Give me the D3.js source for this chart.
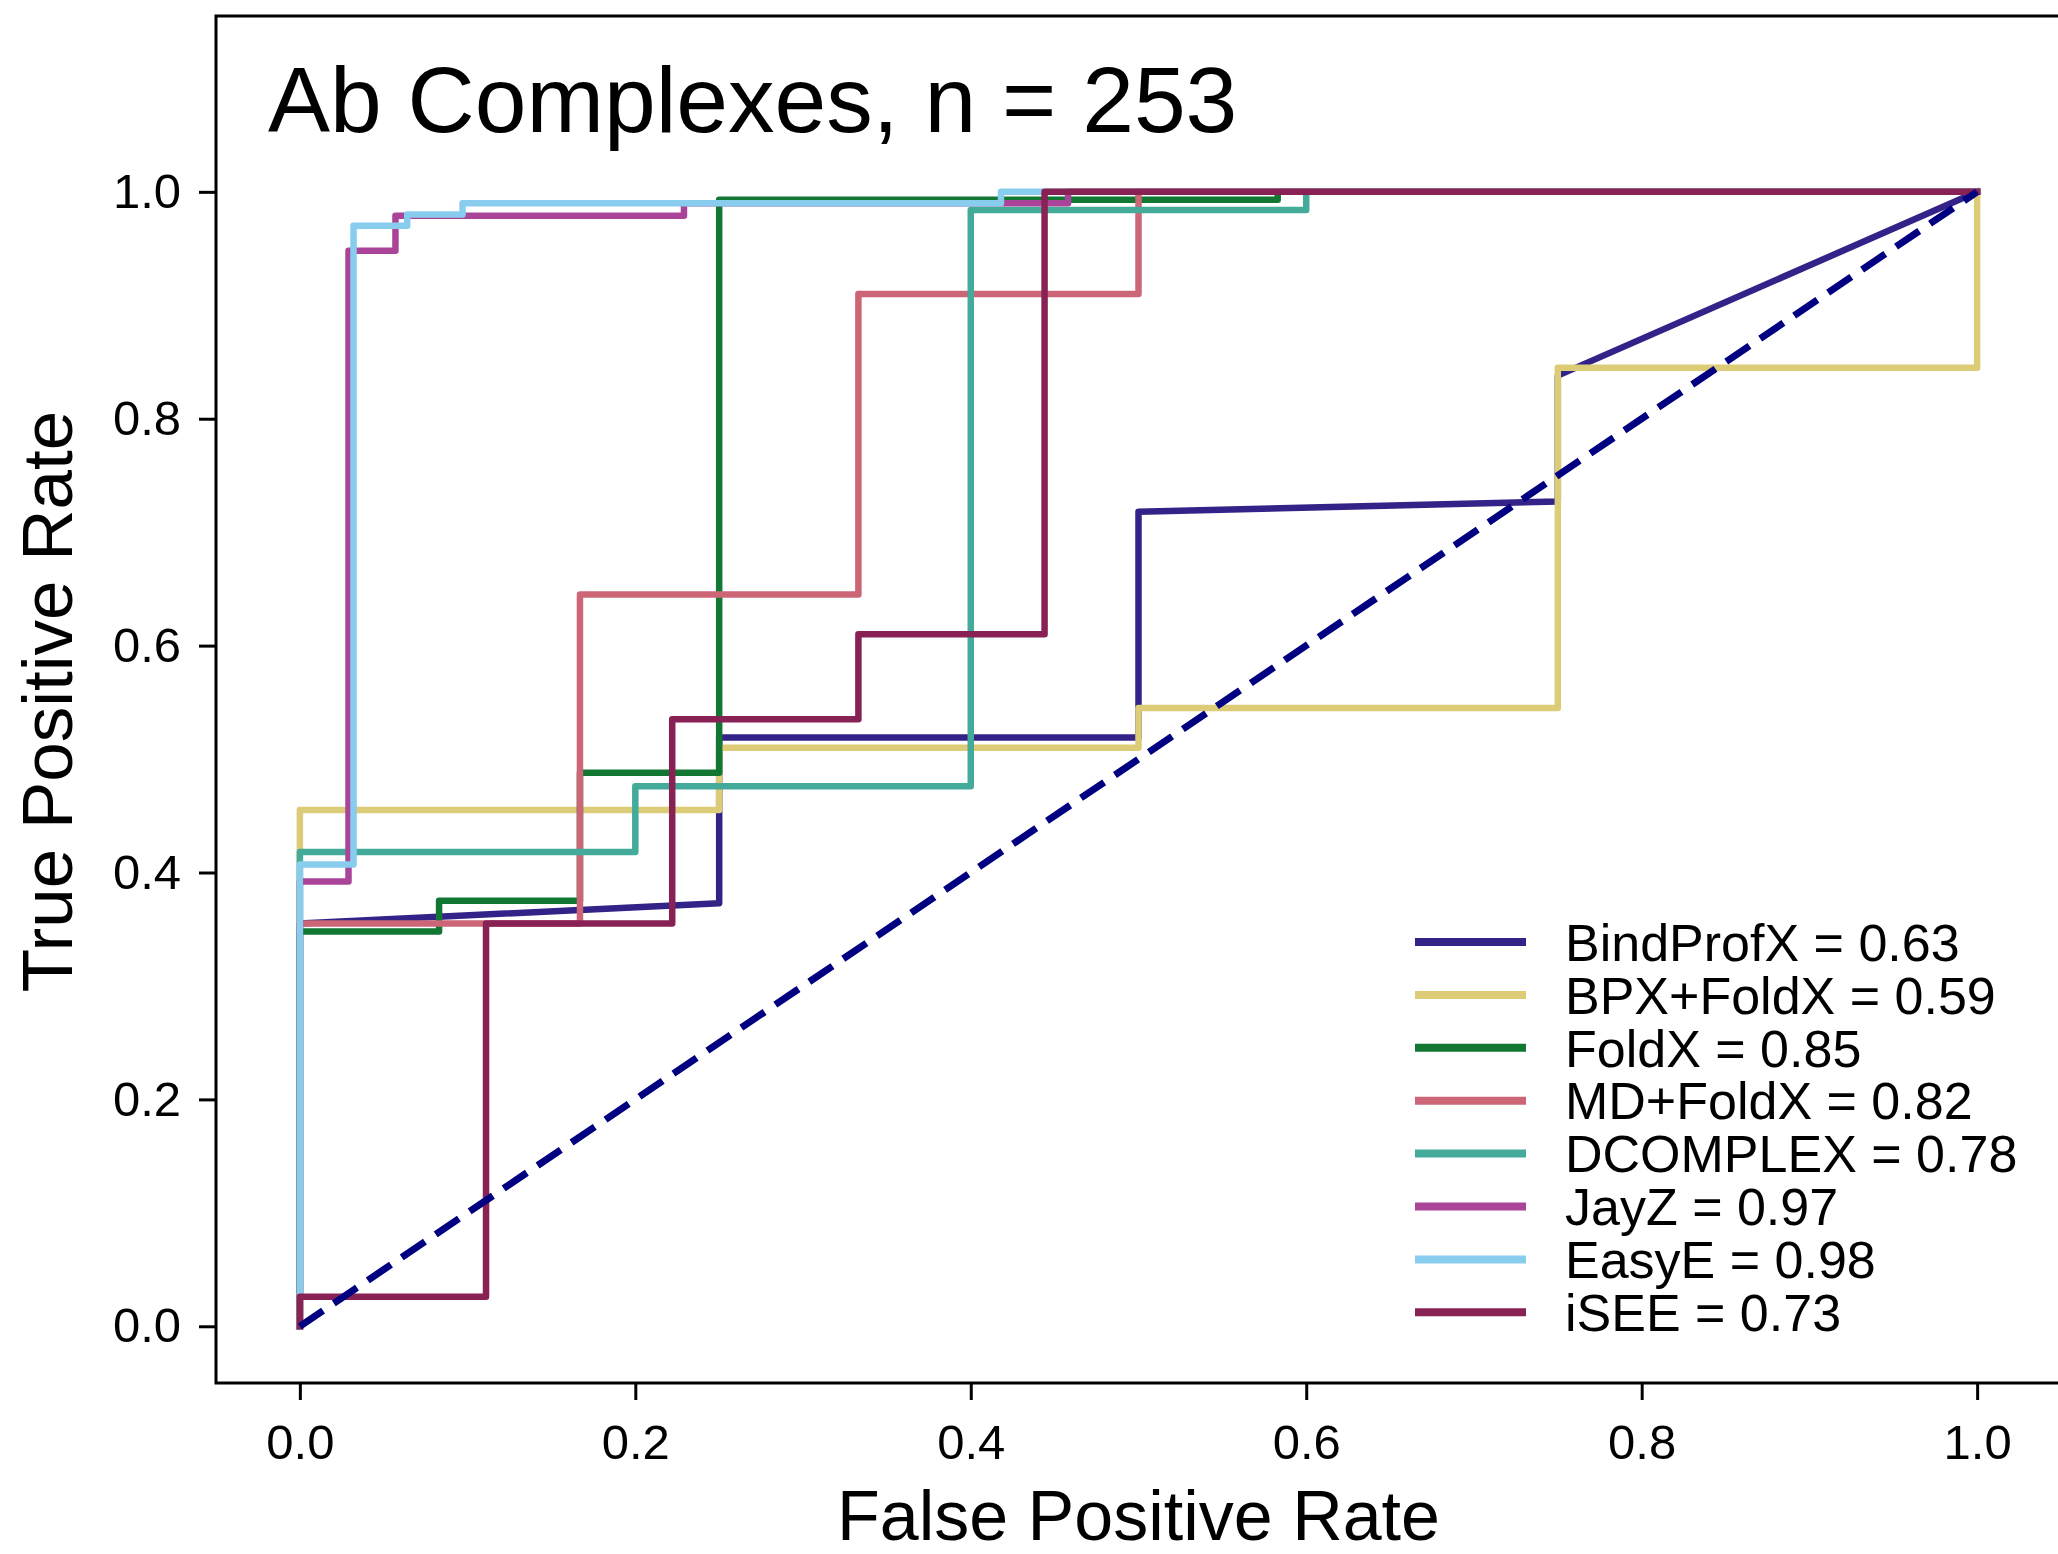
<!DOCTYPE html>
<html>
<head>
<meta charset="utf-8">
<script src="https://cdn.jsdelivr.net/npm/d3@7"></script>
<style>
  body { margin: 0; background: #fff; }
  svg { display: block; }
  text { font-family: "Liberation Sans", Arial, Helvetica, sans-serif; fill: #000; }
</style>
</head>
<body>
<div class="chart"></div>
<script>
// ROC curves (false positive rate, true positive rate)
var methods = ["BindProfX", "BPX+FoldX", "FoldX", "MD+FoldX", "DCOMPLEX", "JayZ", "EasyE", "iSEE"];
var aucs = ["0.63", "0.59", "0.85", "0.82", "0.78", "0.97", "0.98", "0.73"];

var bindProfXFpr = [0, 0, 0.25, 0.25, 0.5, 0.5, 0.75, 0.75, 1];
var bindProfXTpr = [0, 0.355, 0.373, 0.519, 0.519, 0.718, 0.727, 0.838, 1];

var bpxFoldXFpr = [0, 0, 0.25, 0.25, 0.5, 0.5, 0.75, 0.75, 1, 1];
var bpxFoldXTpr = [0, 0.455, 0.455, 0.51, 0.51, 0.545, 0.545, 0.845, 0.845, 1];

var foldXFpr = [0, 0, 0.083, 0.083, 0.167, 0.167, 0.25, 0.25, 0.583, 0.583, 1];
var foldXTpr = [0, 0.348, 0.348, 0.375, 0.375, 0.488, 0.488, 0.993, 0.993, 1, 1];

var mdFoldXFpr = [0, 0, 0.167, 0.167, 0.333, 0.333, 0.5, 0.5, 1];
var mdFoldXTpr = [0, 0.355, 0.355, 0.645, 0.645, 0.91, 0.91, 1, 1];

var dcomplexFpr = [0, 0, 0.2, 0.2, 0.4, 0.4, 0.6, 0.6, 1];
var dcomplexTpr = [0, 0.418, 0.418, 0.476, 0.476, 0.984, 0.984, 1, 1];

var jayZFpr = [0, 0, 0.029, 0.029, 0.057, 0.057, 0.229, 0.229, 0.458, 0.458, 1];
var jayZTpr = [0, 0.392, 0.392, 0.948, 0.948, 0.979, 0.979, 0.99, 0.99, 1, 1];

var easyEFpr = [0, 0, 0.032, 0.032, 0.064, 0.064, 0.097, 0.097, 0.418, 0.418, 1];
var easyETpr = [0, 0.407, 0.407, 0.97, 0.97, 0.98, 0.98, 0.99, 0.99, 1, 1];

var iseeFpr = [0, 0, 0.111, 0.111, 0.222, 0.222, 0.333, 0.333, 0.444, 0.444, 1];
var iseeTpr = [0, 0.026, 0.026, 0.355, 0.355, 0.535, 0.535, 0.61, 0.61, 1, 1];

var chanceFpr = [0, 1];
var chanceTpr = [0, 1];

var tickValues = [0, 0.2, 0.4, 0.6, 0.8, 1.0];

var colors = ["#332288", "#DDCC77", "#117733", "#CC6677", "#44AA99", "#AA4499", "#88CCEE", "#882255"];

var svgWidth = 2058;
var svgHeight = 1554;

var frame = { left: 216, right: 2061, top: 16, bottom: 1383 };

var svg = d3.select(".chart")
  .append("svg")
  .attr("width", svgWidth)
  .attr("height", svgHeight);

var x = d3.scaleLinear().domain([-0.05, 1.05]).range([frame.left, frame.right]);
var y = d3.scaleLinear().domain([-0.05, 1.155]).range([frame.bottom, frame.top]);

var curves = [
  [bindProfXFpr, bindProfXTpr],
  [bpxFoldXFpr, bpxFoldXTpr],
  [foldXFpr, foldXTpr],
  [mdFoldXFpr, mdFoldXTpr],
  [dcomplexFpr, dcomplexTpr],
  [jayZFpr, jayZTpr],
  [easyEFpr, easyETpr],
  [iseeFpr, iseeTpr]
].map(function(c) {
  return c[0].map(function(f, i) { return { fpr: f, tpr: c[1][i] }; });
});

var line = d3.line()
  .x(function(d) { return x(d.fpr); })
  .y(function(d) { return y(d.tpr); });

var plot = svg.append("g");

plot.selectAll(".roc")
  .data(curves)
  .enter().append("path")
    .attr("class", "roc")
    .attr("d", line)
    .attr("fill", "none")
    .attr("stroke", function(d, i) { return colors[i]; })
    .attr("stroke-width", 6.5)
    .attr("stroke-linejoin", "round")
    .attr("stroke-linecap", "square");

// chance diagonal
plot.append("path")
  .datum(chanceFpr.map(function(f, i) { return { fpr: f, tpr: chanceTpr[i] }; }))
  .attr("d", line)
  .attr("fill", "none")
  .attr("stroke", "#000080")
  .attr("stroke-width", 7)
  .attr("stroke-dasharray", "28,13");

// frame
svg.append("rect")
  .attr("x", frame.left)
  .attr("y", frame.top)
  .attr("width", frame.right - frame.left)
  .attr("height", frame.bottom - frame.top)
  .attr("fill", "none")
  .attr("stroke", "#000")
  .attr("stroke-width", 3);

var bottomAxis = d3.axisBottom(x)
  .tickValues(tickValues)
  .tickFormat(d3.format(".1f"))
  .tickSizeInner(17)
  .tickSizeOuter(0)
  .tickPadding(24);

var leftAxis = d3.axisLeft(y)
  .tickValues(tickValues)
  .tickFormat(d3.format(".1f"))
  .tickSizeInner(17)
  .tickSizeOuter(0)
  .tickPadding(18);

var gx = svg.append("g")
  .attr("transform", "translate(0," + frame.bottom + ")")
  .call(bottomAxis);

var gy = svg.append("g")
  .attr("transform", "translate(" + frame.left + ",0)")
  .call(leftAxis);

[gx, gy].forEach(function(g) {
  g.select(".domain").remove();
  g.selectAll(".tick line").attr("stroke", "#000").attr("stroke-width", 3);
  g.selectAll(".tick text")
    .attr("fill", "#000")
    .style("font-family", "'Liberation Sans', Arial, sans-serif")
    .style("font-size", "49px");
});

// title inside the axes
svg.append("text")
  .attr("x", 268)
  .attr("y", 132)
  .style("font-size", "93px")
  .text("Ab Complexes, n = 253");

// axis labels
svg.append("text")
  .attr("x", (frame.left + frame.right) / 2)
  .attr("y", 1540)
  .attr("text-anchor", "middle")
  .style("font-size", "70px")
  .text("False Positive Rate");

svg.append("text")
  .attr("transform", "translate(72," + ((frame.top + frame.bottom) / 2 + 2) + ") rotate(-90)")
  .attr("text-anchor", "middle")
  .style("font-size", "71px")
  .text("True Positive Rate");

// legend
var legend = svg.append("g")
  .attr("transform", "translate(1415,942)");

var rows = legend.selectAll(".row")
  .data(methods)
  .enter().append("g")
    .attr("class", "row")
    .attr("transform", function(d, i) { return "translate(0," + (i * 52.9) + ")"; });

rows.append("line")
  .attr("x1", 0)
  .attr("x2", 111)
  .attr("stroke", function(d, i) { return colors[i]; })
  .attr("stroke-width", 8);

rows.append("text")
  .attr("x", 150)
  .attr("dy", "0.36em")
  .style("font-size", "52px")
  .text(function(d, i) { return d + " = " + aucs[i]; });
</script>
</body>
</html>
